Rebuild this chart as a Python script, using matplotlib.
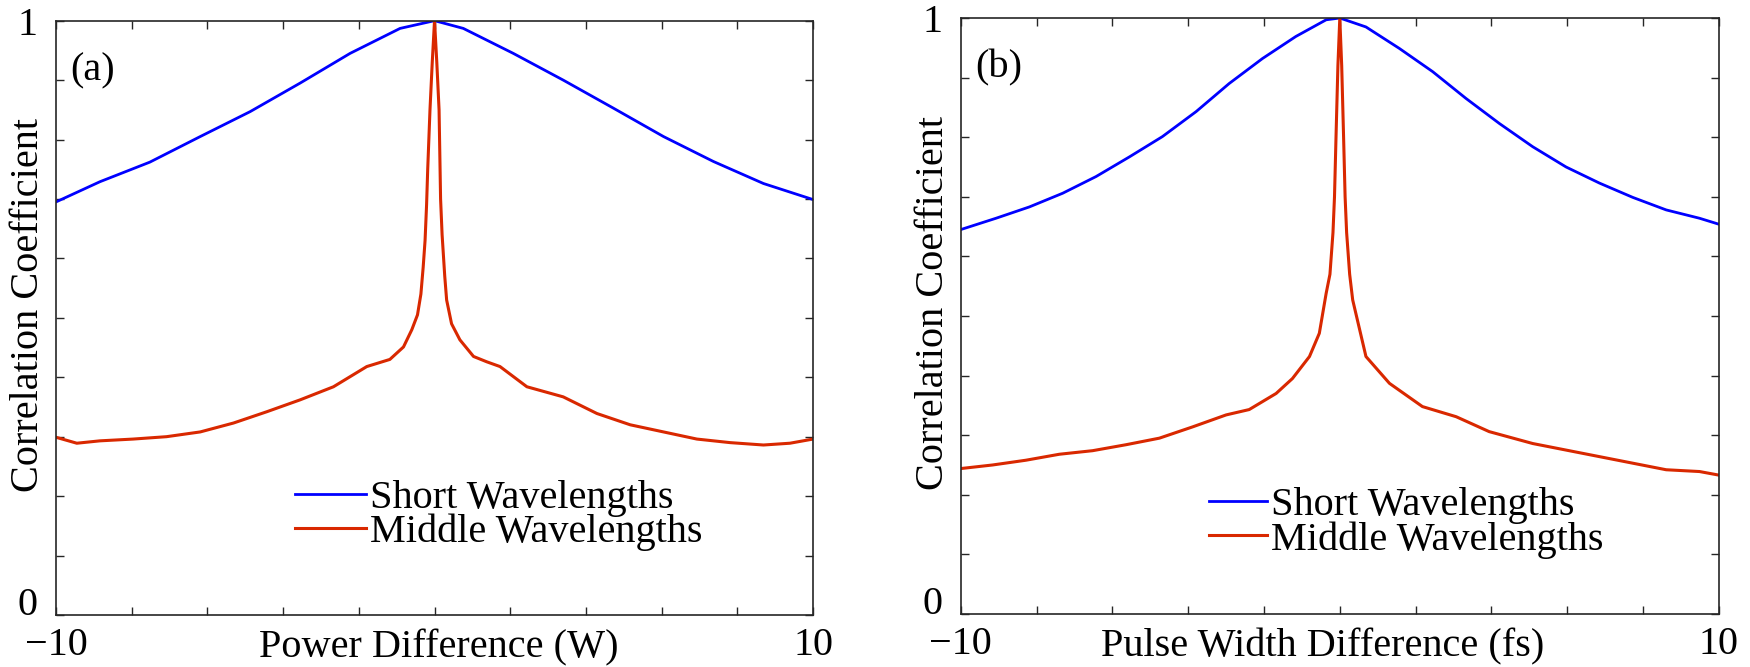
import numpy as np
import matplotlib
matplotlib.use("Agg")
import matplotlib.pyplot as plt

plt.rcParams['font.family'] = ['Liberation Serif', 'DejaVu Serif']
plt.rcParams['font.size'] = 29

# panel (a): power difference
short_a_x = [-10, -8.84, -7.52, -6.19, -4.87, -3.55, -2.23, -0.91, 0,
             0.76, 2.08, 3.40, 4.72, 6.05, 7.37, 8.69, 10]
short_a_y = [0.695, 0.729, 0.762, 0.805, 0.847, 0.895, 0.945, 0.987, 1.0,
             0.987, 0.945, 0.900, 0.853, 0.805, 0.763, 0.726, 0.699]

middle_a_x = [-10, -9.45, -8.84, -7.96, -7.08, -6.19, -5.31, -4.43, -3.55, -2.67,
              -1.79, -1.18, -0.82, -0.6, -0.45, -0.36, -0.3, -0.25, -0.21, -0.18,
              -0.12, -0.06, 0, 0.06, 0.12, 0.16, 0.2, 0.27, 0.32, 0.45, 0.67,
              1.03, 1.38, 1.73, 2.44, 3.40, 4.29, 5.17, 6.05, 6.93, 7.81, 8.69,
              9.39, 10]
middle_a_y = [0.299, 0.289, 0.293, 0.296, 0.300, 0.308, 0.323, 0.342, 0.362, 0.384,
              0.418, 0.430, 0.451, 0.480, 0.505, 0.54, 0.585, 0.63, 0.69, 0.75,
              0.85, 0.93, 1.0, 0.93, 0.85, 0.70, 0.64, 0.57, 0.53, 0.49, 0.463,
              0.435, 0.426, 0.418, 0.384, 0.367, 0.339, 0.320, 0.308, 0.296, 0.290, 0.286,
              0.289, 0.296]

# panel (b): pulse width difference
short_b_x = [-10, -9.07, -8.19, -7.31, -6.43, -5.55, -4.68, -3.79, -2.92, -2.04,
             -1.16, -0.36, 0, 0.69, 1.57, 2.45, 3.33, 4.21, 5.09, 5.97, 6.85,
             7.73, 8.61, 9.49, 10]
short_b_y = [0.645, 0.664, 0.683, 0.706, 0.734, 0.767, 0.801, 0.843, 0.890, 0.932,
             0.969, 0.997, 1.0, 0.985, 0.949, 0.910, 0.865, 0.823, 0.784, 0.750, 0.723,
             0.699, 0.678, 0.664, 0.654]

middle_b_x = [-10, -9.16, -8.28, -7.40, -6.52, -5.64, -4.76, -3.88, -3.00, -2.39,
              -1.68, -1.25, -0.80, -0.54, -0.36, -0.26, -0.18, -0.14, -0.10, -0.05,
              0, 0.05, 0.10, 0.14, 0.18, 0.26, 0.34, 0.69, 1.31, 2.18, 3.07, 3.94,
              5.09, 5.97, 6.85, 7.73, 8.61, 9.49, 10]
middle_b_y = [0.244, 0.250, 0.258, 0.268, 0.274, 0.284, 0.295, 0.314, 0.334, 0.343,
              0.370, 0.395, 0.432, 0.471, 0.538, 0.57, 0.64, 0.70, 0.80, 0.92,
              1.0, 0.92, 0.80, 0.70, 0.64, 0.57, 0.527, 0.432, 0.387, 0.348, 0.331, 0.306,
              0.286, 0.275, 0.264, 0.253, 0.242, 0.239, 0.233]

xticks = np.arange(-10, 11, 2)
xticklabels = ['\u221210'] + [''] * 9 + ['10']
yticks = np.linspace(0, 1, 11)
yticklabels = ['0'] + [''] * 9 + ['1']

BLUE = '#0000ff'
RED = '#d92800'

fig = plt.figure(figsize=(17.5, 6.67), dpi=100)
ax_a = fig.add_axes([0.032, 0.078, 0.4326, 0.891])
ax_b = fig.add_axes([0.549, 0.0795, 0.4332, 0.8935])

panels = [
    (ax_a, short_a_x, short_a_y, middle_a_x, middle_a_y, 'Power Difference (W)', '(a)',
     0.505, (0.3157, 0.228), 1.76),
    (ax_b, short_b_x, short_b_y, middle_b_x, middle_b_y, 'Pulse Width Difference (fs)', '(b)',
     0.478, (0.327, 0.213), 1.44),
]

for ax, sx, sy, mx, my, xlab, tag, xl_pos, leg_pos, hlen in panels:
    ax.plot(sx, sy, color=BLUE, lw=2.0, label='Short Wavelengths')
    ax.plot(mx, my, color=RED, lw=2.2, label='Middle Wavelengths')
    ax.set_xlim(-10, 10)
    ax.set_ylim(0, 1)
    ax.set_xticks(xticks)
    ax.set_xticklabels(xticklabels)
    ax.set_yticks(yticks)
    ax.set_yticklabels(yticklabels)
    ax.tick_params(direction='in', top=True, right=True, length=5.5, width=1.0,
                   color='#262626')
    ax.tick_params(axis='x', pad=9)
    ax.tick_params(axis='y', pad=13)
    for lbl in ax.get_yticklabels():
        if lbl.get_text() == '0':
            lbl.set_va('baseline')
        else:
            lbl.set_va('center_baseline')
    for sp in ax.spines.values():
        sp.set_linewidth(1.2)
        sp.set_color('#262626')

    ax.set_xlabel(xlab)
    ax.xaxis.label.set_va('baseline')
    ax.xaxis.set_label_coords(xl_pos, -0.0707)
    ax.set_ylabel('Correlation Coefficient')
    ax.yaxis.label.set_va('center')
    ax.yaxis.set_label_coords(-0.036, 0.522)

    ax.text(0.0185, 0.90, tag, transform=ax.transAxes, ha='left', va='baseline')

    ax.legend(loc='upper left', bbox_to_anchor=leg_pos, frameon=False,
              handlelength=hlen, handletextpad=0.1, borderpad=0, borderaxespad=0,
              labelspacing=-0.08, fontsize=29)

fig.savefig('out.png', dpi=100)
